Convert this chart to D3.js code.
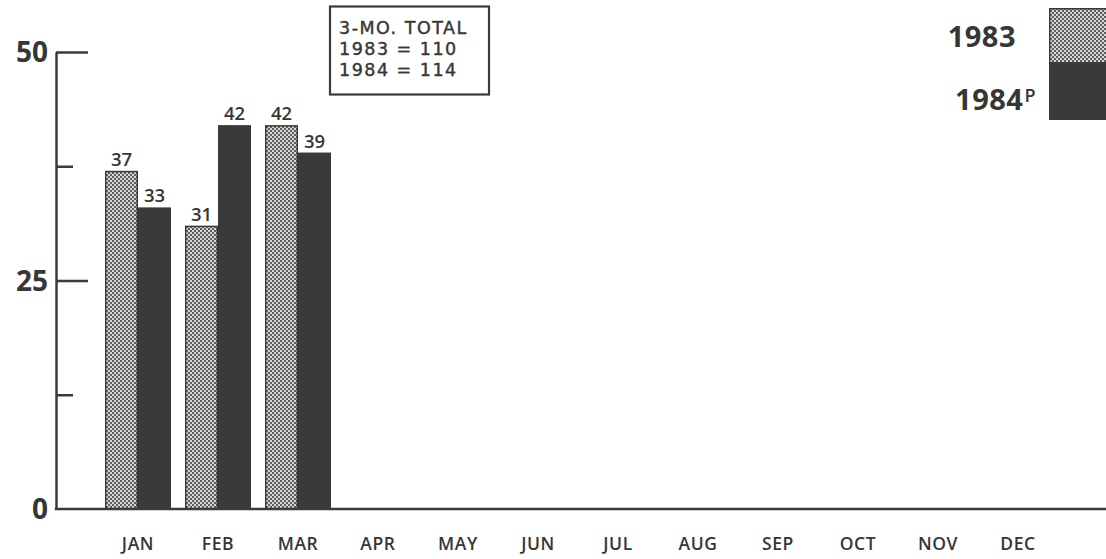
<!DOCTYPE html>
<html><head><meta charset="utf-8">
<script src="https://cdn.jsdelivr.net/npm/d3@7"></script>
<style>
html,body{margin:0;padding:0;background:#fff;}
svg{display:block;}
text{font-family:"Open Sans",sans-serif;fill:#363636;}
</style></head>
<body>
<svg id="c" width="1106" height="559"></svg>
<script>
const months = ["JAN","FEB","MAR","APR","MAY","JUN","JUL","AUG","SEP","OCT","NOV","DEC"];
const values1983 = [37, 31, 42];
const values1984 = [33, 42, 39];
const seriesNames = ["1983", "1984"];
const majorTicks = [0, 25, 50];
const minorTicks = [12.5, 37.5];
const boxLines = ["3-MO. TOTAL", "1983 = 110", "1984 = 114"];

const svg = d3.select("#c");
const dark = "#3a3a3a";

const defs = svg.append("defs");
const pat = defs.append("pattern").attr("id","hatch").attr("patternUnits","userSpaceOnUse")
  .attr("width",4).attr("height",4);
pat.append("rect").attr("width",4).attr("height",4).attr("fill","#d6d6d6");
pat.append("rect").attr("x",0).attr("y",0).attr("width",2).attr("height",2).attr("fill","#5e5e5e");
pat.append("rect").attr("x",2).attr("y",2).attr("width",2).attr("height",2).attr("fill","#5e5e5e");

const x0 = d3.scaleBand().domain(months).range([98, 1058]).paddingInner(0.175).paddingOuter(0.0875);
const x1 = d3.scaleBand().domain(seriesNames).range([0, x0.bandwidth()]);
const y = d3.scaleLinear().domain([0, 50]).range([509, 52]);
const axisX = 56;

const rows = [];
values1983.forEach((v,i)=>rows.push({m:months[i], s:"1983", v}));
values1984.forEach((v,i)=>rows.push({m:months[i], s:"1984", v}));

// bars
svg.append("g").selectAll("rect").data(rows).join("rect")
  .attr("x", d => x0(d.m) + x1(d.s) + (d.s==="1983"?0.75:0))
  .attr("y", d => y(d.v) + (d.s==="1983"?0.75:0))
  .attr("width", d => x1.bandwidth() - (d.s==="1983"?1.5:0))
  .attr("height", d => y(0) - y(d.v) - (d.s==="1983"?0.75:0))
  .attr("fill", d => d.s==="1983" ? "url(#hatch)" : dark)
  .attr("stroke", d => d.s==="1983" ? dark : "none")
  .attr("stroke-width", 1.5);

// value labels
svg.append("g").selectAll("text").data(rows).join("text")
  .attr("x", d => x0(d.m) + x1(d.s) + x1.bandwidth()/2)
  .attr("y", d => y(d.v) - 5)
  .attr("text-anchor","middle")
  .attr("font-size", 18.5).attr("font-weight", 600)
  .text(d => d.v);

// y axis
const gMaj = svg.append("g").attr("transform",`translate(${axisX},0)`)
  .call(d3.axisRight(y).tickValues(majorTicks).tickSize(32).tickSizeOuter(0).tickFormat(""));
const gMin = svg.append("g").attr("transform",`translate(${axisX},0)`)
  .call(d3.axisRight(y).tickValues(minorTicks).tickSize(17).tickSizeOuter(0).tickFormat(""));
gMin.select(".domain").remove();
[gMaj, gMin].forEach(g => {
  g.selectAll("line").attr("stroke", dark).attr("stroke-width", 2.5);
  g.select(".domain").attr("stroke", dark).attr("stroke-width", 2.5);
});
gMaj.selectAll(".tick").filter(d => d === 0).select("line").remove();

// y labels
svg.append("g").selectAll("text").data(majorTicks).join("text")
  .attr("x", 48).attr("y", d => y(d)).attr("dy","0.36em")
  .attr("text-anchor","end").attr("font-size", 28).attr("font-weight", 700)
  .text(d => d);

// baseline
svg.append("line").attr("x1", axisX - 1.25).attr("x2", 1106).attr("y1", y(0)).attr("y2", y(0))
  .attr("stroke", dark).attr("stroke-width", 2.5);

// month labels
const gx = svg.append("g").attr("transform", `translate(0,${y(0)})`)
  .call(d3.axisBottom(x0).tickSize(0).tickPadding(29));
gx.select(".domain").remove();
gx.selectAll("text").attr("font-size", 17.5).attr("font-weight", 600)
  .style("font-family", '"Open Sans",sans-serif').attr("fill","#363636")
  .attr("letter-spacing", 0.6);

// total box
svg.append("rect").attr("x", 330).attr("y", 6.5).attr("width", 159).attr("height", 88)
  .attr("fill","none").attr("stroke", dark).attr("stroke-width", 2.2);
svg.append("g").selectAll("text").data(boxLines).join("text")
  .attr("x", 339).attr("y", (d,i) => 34 + i*21)
  .style("font-family", '"DejaVu Sans",sans-serif')
  .attr("font-size", 17.5).attr("font-weight", 400).attr("letter-spacing", 1.5)
  .attr("stroke", "#363636").attr("stroke-width", 0.4)
  .text(d => d);

// legend
svg.append("rect").attr("x", 1049.75).attr("y", 8.75).attr("width", 57).attr("height", 54)
  .attr("fill","url(#hatch)").attr("stroke", dark).attr("stroke-width", 1.5);
svg.append("rect").attr("x", 1049).attr("y", 62).attr("width", 57).attr("height", 58)
  .attr("fill", dark);
svg.append("text").attr("x", 1016).attr("y", 47).attr("text-anchor","end")
  .attr("font-size", 29).attr("font-weight", 700).attr("letter-spacing", 0.5).text(seriesNames[0]);
const t2 = svg.append("text").attr("x", 1036).attr("y", 110).attr("text-anchor","end")
  .attr("font-size", 29).attr("font-weight", 700).attr("letter-spacing", 0.5);
t2.append("tspan").text(seriesNames[1]);
t2.append("tspan").attr("font-size", 18).attr("font-weight", 600).attr("dy", -8).attr("dx", 1).text("P");
</script>
</body></html>
